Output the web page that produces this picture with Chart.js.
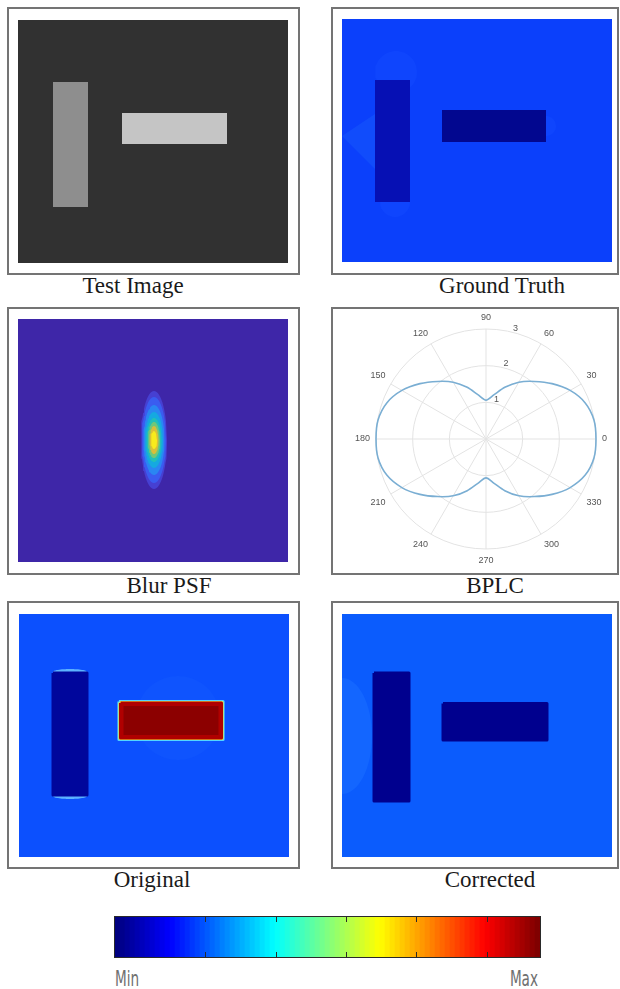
<!DOCTYPE html>
<html>
<head>
<meta charset="utf-8">
<title>BPLC figure</title>
<script src="https://cdn.jsdelivr.net/npm/chart.js@4.4.1/dist/chart.umd.min.js"></script>
<style>
  body { margin: 0; background: #fff; }
  #page { position: relative; width: 620px; height: 989px; overflow: hidden; background: #fff; }
  .frame { position: absolute; box-sizing: border-box; border: 2px solid #747474; width: 293px; height: 268px; }
  .frame.right { width: 288px; }
  .img { position: absolute; }
  .cap {
    position: absolute; width: 200px; text-align: center; white-space: nowrap;
    font-family: 'Liberation Serif', 'Times New Roman', serif; font-size: 23px; line-height: 23px; color: #1a1a1a;
  }
  #cbWrap { position: absolute; left: 114px; top: 916px; border: 1px solid #2a2a2a; width: 425px; height: 40px; }
  #cbWrap canvas { display: block; }
  .cbLab {
    position: absolute; width: 100px; white-space: nowrap; color: #707070;
    font-family: 'Liberation Sans Narrow', 'DejaVu Sans Condensed', sans-serif; font-size: 21px; line-height: 20px;
  }
</style>
</head>
<body>
<div id="page">
  <div class="frame" style="left:7px; top:7px;"></div>
  <div class="frame right" style="left:331px; top:7px;"></div>
  <div class="frame" style="left:7px; top:307px;"></div>
  <div class="frame right" style="left:331px; top:307px;"></div>
  <div class="frame" style="left:7px; top:601px;"></div>
  <div class="frame right" style="left:331px; top:601px;"></div>

  <canvas id="testImg" class="img" width="270" height="243" style="left:18px; top:20px;"></canvas>
  <canvas id="groundTruth" class="img" width="270" height="243" style="left:342px; top:19px;"></canvas>
  <canvas id="blurPsf" class="img" width="270" height="243" style="left:18px; top:319px;"></canvas>
  <canvas id="bplc" class="img" width="262" height="262" style="left:350px; top:309px;"></canvas>
  <canvas id="original" class="img" width="270" height="243" style="left:19px; top:614px;"></canvas>
  <canvas id="corrected" class="img" width="270" height="243" style="left:342px; top:614px;"></canvas>

  <div class="cap" style="left:33px; top:274px;">Test Image</div>
  <div class="cap" style="left:402px; top:274px;">Ground Truth</div>
  <div class="cap" style="left:69px; top:574px;">Blur PSF</div>
  <div class="cap" style="left:395px; top:574px;">BPLC</div>
  <div class="cap" style="left:52px; top:868px;">Original</div>
  <div class="cap" style="left:390px; top:868px;">Corrected</div>

  <div id="cbWrap"><canvas id="colorbar" width="425" height="40"></canvas></div>
  <div class="cbLab" style="left:115px; top:969px; transform:scaleX(0.72); transform-origin:left;">Min</div>
  <div class="cbLab" style="left:438px; top:969px; text-align:right; transform:scaleX(0.72); transform-origin:right;">Max</div>
</div>

<script>
// shared pixel grid of the image panels
const IMG_W = 270;
const IMG_H = 243;

// rectangles are [x0, y0, x1, y1], ellipses are [cx, cy, rx, ry]
const testRects = [[0, 0, 270, 243], [35, 62, 70, 187], [104, 93, 209, 124]];
const testColors = ['#313131', '#8e8e8e', '#c5c5c5'];

const gtBg = [0, 0, 270, 243];
const gtHalos = [[54, 53, 21, 21], [53, 183, 15, 15], [204, 107, 10, 10]];
const gtWedge = [[0, 117], [33, 95], [33, 150]];
const gtBars = [[33, 61, 68, 183], [100, 91, 204, 123]];

const psfCenter = [136, 121];
const psfRx = [13, 12, 10.5, 9, 7.5, 6, 4.5, 3];
const psfRy = [49, 43, 35, 28, 22, 18, 14, 9];

const origBg = [0, 0, 270, 243];
const origDome = [159, 104, 42, 42];
const origCold = [34, 59, 68, 181];
const origCaps = [[51, 58, 17, 3], [51, 182, 17, 3]];
const origHot = [101.5, 89, 202.5, 124];

const corrBg = [0, 0, 270, 243];
const corrGlow = [0, 122, 30, 58];
const corrBars = [[32, 59, 67, 187], [101, 89.5, 205, 126]];

// BPLC polar curve, angles clockwise from the top
const bplcAngles = [90, 80, 70, 60, 50, 40, 30, 20, 10, 0, 350, 340, 330, 320, 310, 300, 290, 280,
                    270, 260, 250, 240, 230, 220, 210, 200, 190, 180, 170, 160, 150, 140, 130, 120, 110, 100];
const bplcR = [1.06, 1.22, 1.50, 1.79, 2.05, 2.35, 2.65, 2.88, 2.99, 3.00, 2.99, 2.88, 2.65, 2.35, 2.05, 1.79, 1.50, 1.22,
               1.06, 1.22, 1.50, 1.79, 2.05, 2.35, 2.65, 2.88, 2.99, 3.00, 2.99, 2.88, 2.65, 2.35, 2.05, 1.79, 1.50, 1.22];
const bplcRTicks = [1, 2, 3];

// colorbar (data range and tick values)
const cbSteps = 85;
const cbMin = -0.129;
const cbMax = 0.475;
const cbTicks = [0, 0.1, 0.2, 0.3, 0.4];

function rectPts(r) {
    const [x0, y0, x1, y1] = r;
    return [{x: x0, y: y0}, {x: x1, y: y0}, {x: x1, y: y1}, {x: x0, y: y1}, {x: x0, y: y0}];
}

function grow(r, d) {
    return [r[0] - d, r[1] - d, r[2] + d, r[3] + d];
}

function ellipsePts(e) {
    const [cx, cy, rx, ry] = e;
    const pts = [];
    for (let i = 0; i <= 64; i++) {
        const a = i / 64 * 2 * Math.PI;
        pts.push({x: cx + rx * Math.cos(a), y: cy + ry * Math.sin(a)});
    }
    return pts;
}

// layers are listed bottom first
function drawImagePanel(id, layers) {
    const datasets = layers.map((l, i) => ({
        data: l.pts,
        backgroundColor: l.color,
        borderColor: l.color,
        borderWidth: l.round ? 3 : 0,
        borderJoinStyle: 'round',
        fill: 'shape',
        pointRadius: 0,
        tension: 0,
        order: -i
    }));
    new Chart(document.getElementById(id), {
        type: 'line',
        data: { datasets: datasets },
        options: {
            responsive: false,
            animation: false,
            events: [],
            plugins: { legend: { display: false }, tooltip: { enabled: false } },
            scales: {
                x: { type: 'linear', min: 0, max: IMG_W, display: false },
                y: { type: 'linear', min: 0, max: IMG_H, reverse: true, display: false }
            }
        }
    });
}

// Test Image
drawImagePanel('testImg', testRects.map((r, i) => ({ pts: rectPts(r), color: testColors[i] })));

// Ground Truth
drawImagePanel('groundTruth', [
    { pts: rectPts(gtBg), color: '#0b40fb' },
    ...gtHalos.map(h => ({ pts: ellipsePts(h), color: '#0f45fd' })),
    { pts: gtWedge.concat([gtWedge[0]]).map(p => ({x: p[0], y: p[1]})), color: '#114cfb' },
    { pts: rectPts(gtBars[0]), color: '#0610b4' },
    { pts: rectPts(gtBars[1]), color: '#02078f' }
]);

// Blur PSF (parula levels, outer to inner)
const psfColors = ['#4640d2', '#3a5cf0', '#2a86f2', '#15a9e0', '#22bfb8', '#6fc77a', '#d8bf3a', '#f8eb1c'];
drawImagePanel('blurPsf', [
    { pts: rectPts([0, 0, IMG_W, IMG_H]), color: '#3e26a8' },
    ...psfRx.map((rx, i) => ({ pts: ellipsePts([psfCenter[0], psfCenter[1], rx, psfRy[i]]), color: psfColors[i] }))
]);

// Original
drawImagePanel('original', [
    { pts: rectPts(origBg), color: '#0c50fe' },
    { pts: ellipsePts(origDome), color: '#0f54fe' },
    ...origCaps.map(c => ({ pts: ellipsePts(c), color: '#5cb2ff' })),
    { pts: rectPts(origCold), color: '#00069c', round: true },
    { pts: rectPts(grow(origHot, 1.6)), color: '#52d6ff', round: true },
    { pts: rectPts(grow(origHot, 0.6)), color: '#f2e43a', round: true },
    { pts: rectPts(origHot), color: '#b00000', round: true },
    { pts: rectPts(grow(origHot, -3)), color: '#8c0000' }
]);

// Corrected
drawImagePanel('corrected', [
    { pts: rectPts(corrBg), color: '#0b5cfd' },
    { pts: ellipsePts(corrGlow), color: '#1366ff' },
    ...corrBars.map(r => ({ pts: rectPts(r), color: '#00008e', round: true }))
]);

// BPLC polar plot
const rTickLabels = {
    id: 'rTickLabels',
    afterDraw(chart) {
        const scale = chart.scales.r;
        const ctx = chart.ctx;
        ctx.save();
        ctx.font = '9px "Liberation Sans", Arial, sans-serif';
        ctx.fillStyle = '#555';
        ctx.textAlign = 'center';
        ctx.textBaseline = 'middle';
        bplcRTicks.forEach(v => {
            // labels sit along the 75 degree direction, just outside each ring
            const p = scale.getPointPositionForValue(1.5, v + 0.12);
            ctx.fillText(String(v), p.x, p.y);
        });
        ctx.restore();
    }
};

const isMajor = i => bplcAngles[i] % 30 === 0;

new Chart(document.getElementById('bplc'), {
    type: 'radar',
    data: {
        labels: bplcAngles.map(String),
        datasets: [{
            data: bplcR,
            borderColor: '#7aaed3',
            borderWidth: 1.6,
            pointRadius: 0,
            fill: false,
            tension: 0.3
        }]
    },
    options: {
        responsive: false,
        animation: false,
        events: [],
        plugins: { legend: { display: false }, tooltip: { enabled: false } },
        scales: {
            r: {
                min: 0,
                max: 3,
                ticks: { stepSize: 1, display: false },
                grid: { circular: true, color: '#e3e3e3', lineWidth: 1 },
                angleLines: {
                    color: ctx => isMajor(ctx.index) ? '#e3e3e3' : 'rgba(0,0,0,0)',
                    lineWidth: ctx => isMajor(ctx.index) ? 1 : 0
                },
                pointLabels: {
                    padding: 6,
                    color: '#555',
                    font: { size: 9, family: '"Liberation Sans", Arial, sans-serif' },
                    callback: (label, i) => isMajor(i) ? label : ''
                }
            }
        }
    },
    plugins: [rTickLabels]
});

// jet colorbar
function jet(t) {
    const c = v => Math.round(255 * Math.max(0, Math.min(1, v)));
    return 'rgb(' + c(1.5 - Math.abs(4 * t - 3)) + ',' + c(1.5 - Math.abs(4 * t - 2)) + ',' + c(1.5 - Math.abs(4 * t - 1)) + ')';
}
const cbLevels = [];
for (let i = 0; i < cbSteps; i++) cbLevels.push(i / (cbSteps - 1));

new Chart(document.getElementById('colorbar'), {
    type: 'bar',
    data: {
        labels: cbLevels.map(String),
        datasets: [{
            data: cbLevels.map(() => 1),
            backgroundColor: cbLevels.map(jet),
            barPercentage: 1,
            categoryPercentage: 1,
            borderWidth: 0
        }]
    },
    options: {
        responsive: false,
        animation: false,
        events: [],
        plugins: { legend: { display: false }, tooltip: { enabled: false } },
        scales: {
            x: { display: false },
            y: { display: false, min: 0, max: 1 },
            // tick marks only, drawn over the bars; no offset (bar charts default it on)
            t: {
                type: 'linear',
                position: 'bottom',
                offset: false,
                min: cbMin,
                max: cbMax,
                afterBuildTicks: s => { s.ticks = cbTicks.map(v => ({ value: v })); },
                ticks: { display: false },
                grid: { offset: false, drawTicks: false, color: '#2a2a2a', lineWidth: 1, z: 1 },
                border: { display: false, dash: [5, 30] }
            }
        }
    }
});
</script>
</body>
</html>
